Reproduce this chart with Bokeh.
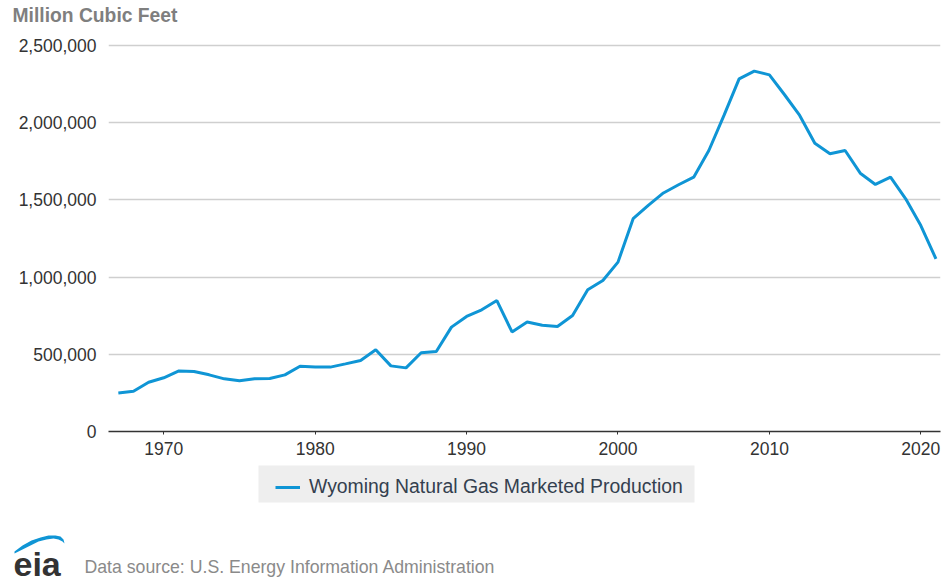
from bokeh.plotting import figure
from bokeh.layouts import column
from bokeh.models import (ColumnDataSource, FixedTicker, NumeralTickFormatter, Label,
                          Legend, LegendItem, PolyAnnotation, BoxAnnotation, Range1d)
from bokeh.embed import file_html
from bokeh.resources import INLINE

years = list(range(1967, 2022))
production = [
    250000, 261000, 319000, 348000, 392000, 389000, 367000, 341000, 328000, 341000,
    343000, 367000, 423000, 417000, 417000, 438000, 460000, 529000, 425000, 412000,
    510000, 518000, 676000, 745000, 788000, 848000, 645000, 709000, 688000, 680000,
    751000, 918000, 978000, 1097000, 1378000, 1465000, 1545000, 1598000, 1647000, 1820000,
    2047000, 2284000, 2334000, 2310000, 2181000, 2047000, 1867000, 1799000, 1820000, 1673000,
    1600000, 1647000, 1507000, 1334000, 1118000,
]
x_ticks = [1970, 1980, 1990, 2000, 2010, 2020]
y_ticks = [0, 500000, 1000000, 1500000, 2000000, 2500000]
series_name = "Wyoming Natural Gas Marketed Production"
y_title = "Million Cubic Feet"
source_note = "Data source: U.S. Energy Information Administration"

FONT = "Liberation Sans"
BLUE = "#0f95d5"

HEAD_H = 30
MAIN_TOP = HEAD_H
MAIN_BOTTOM = 465
MAIN_H = MAIN_BOTTOM - MAIN_TOP
FOOT_H = 588 - MAIN_BOTTOM
FRAME_BOTTOM = 431      # page y of the zero line
TOP_GRID = 45           # page y of the 2,500,000 line
y_end = max(y_ticks) * (FRAME_BOTTOM - MAIN_TOP) / (FRAME_BOTTOM - TOP_GRID)


def blank_figure(height):
    b = figure(width=942, height=height, output_backend="svg", toolbar_location=None,
               title=None, x_range=Range1d(0, 1), y_range=Range1d(0, 1), min_border=0,
               outline_line_color=None, background_fill_color="white",
               border_fill_color="white")
    if hasattr(b, "frame_align"):
        b.frame_align = False
    b.xaxis.visible = False
    b.yaxis.visible = False
    b.grid.visible = False
    return b


# header: y-axis title
h = blank_figure(HEAD_H)
h.add_layout(Label(x=12, y=HEAD_H - 15, x_units="screen", y_units="screen",
                   text=y_title, text_font=FONT, text_font_size="19.3px",
                   text_font_style="bold", text_color="#7f7f7f", text_baseline="middle"))

# main chart
p = figure(width=942, height=MAIN_H, output_backend="svg", toolbar_location=None,
           title=None, x_range=Range1d(1966.35, 2021.3), y_range=Range1d(0, y_end),
           min_border_left=108, min_border_right=2, min_border_top=0,
           min_border_bottom=MAIN_BOTTOM - FRAME_BOTTOM, outline_line_color=None,
           background_fill_color="white", border_fill_color="white")
if hasattr(p, "frame_align"):
    p.frame_align = False

src = ColumnDataSource(dict(year=years, value=production))
r = p.line("year", "value", source=src, line_color=BLUE, line_width=3)

p.xaxis.ticker = FixedTicker(ticks=x_ticks)
p.yaxis.ticker = FixedTicker(ticks=y_ticks)
p.yaxis.formatter = NumeralTickFormatter(format="0,0")
for ax in (p.xaxis[0], p.yaxis[0]):
    ax.major_label_text_font = FONT
    ax.major_label_text_font_size = "17.5px"
    ax.major_label_text_color = "#333333"
    ax.minor_tick_line_color = None
p.yaxis.axis_line_color = None
p.yaxis.major_tick_line_color = None
p.yaxis.major_label_standoff = 6
p.xaxis.axis_line_color = "#333333"
p.xaxis.axis_line_width = 1.5
p.xaxis.major_tick_line_color = "#333333"
p.xaxis.major_tick_in = 0
p.xaxis.major_tick_out = 3
p.xaxis.major_label_standoff = 7

p.xgrid.grid_line_color = None
p.ygrid.grid_line_color = "#cfcfcf"
p.ygrid.grid_line_width = 1.6

# footer: legend, eia logo and source note
f = blank_figure(FOOT_H)

def fy(py):
    return 588 - py

f.add_layout(BoxAnnotation(left=258, right=694, bottom=fy(502), top=fy(463),
                           left_units="screen", right_units="screen",
                           bottom_units="screen", top_units="screen",
                           fill_color="#eeeeee", fill_alpha=1.0, line_color=None))

key = f.line(x=[float("nan")], y=[float("nan")], line_color=BLUE, line_width=3)
legend = Legend(items=[LegendItem(label=series_name, renderers=[key])],
                location=(275, fy(498)), orientation="horizontal",
                background_fill_alpha=0.0, border_line_color=None,
                padding=0, margin=0, spacing=0,
                glyph_width=25, glyph_height=20, label_height=20, label_standoff=9,
                label_text_font=FONT, label_text_font_size="19.4px",
                label_text_color="#34404e")
f.add_layout(legend, "center")

f.add_layout(PolyAnnotation(
    xs=[14, 22, 31, 40, 48, 55, 60, 63, 64, 62, 58, 53, 46, 38, 30, 22, 14],
    ys=[fy(v) for v in [551, 545, 540, 537, 535, 535, 536, 539, 543, 541, 539, 538, 539, 541, 545, 549, 553]],
    xs_units="screen", ys_units="screen", fill_color=BLUE, fill_alpha=1.0,
    line_color=None))
f.add_layout(Label(x=13, y=fy(563), x_units="screen", y_units="screen", text="eia",
                   text_font=FONT, text_font_size="34px", text_font_style="bold",
                   text_color="#333333", text_baseline="middle"))
f.add_layout(Label(x=84, y=fy(566), x_units="screen", y_units="screen", text=source_note,
                   text_font=FONT, text_font_size="17.7px", text_color="#8a8a8a",
                   text_baseline="middle"))

layout = column(h, p, f, spacing=0)
open("out.html", "w").write(file_html(layout, INLINE))
